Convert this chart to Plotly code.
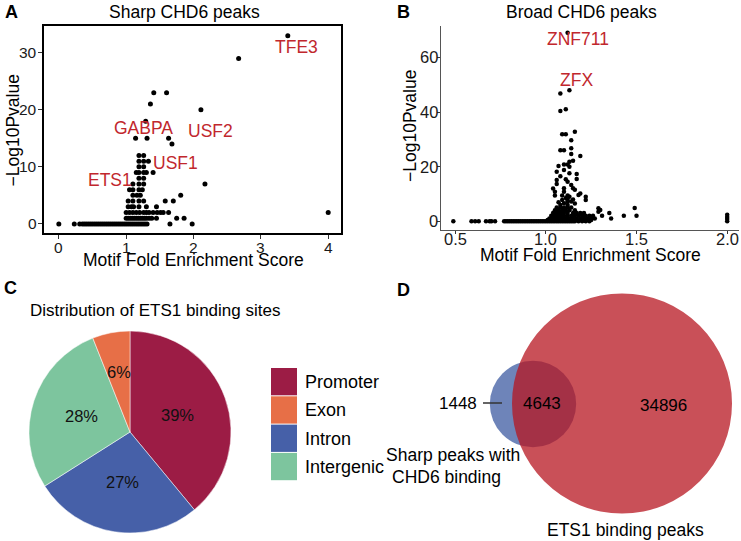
import math
import plotly.graph_objects as go

W, H = 741, 541
FONT = "Arial, 'Liberation Sans', sans-serif"
RED_TXT = "#C1272D"

# ---------------- Panel A data: sharp CHD6 peaks (fold enrichment, -log10 p) ----------------
sharp_points = [
    (0.00, 0), (0.23, 0), (0.31, 0), (0.35, 0), (0.38, 0), (0.41, 0), (0.44, 0), (0.47, 0), (0.50, 0),
    (0.53, 0), (0.56, 0), (0.59, 0), (0.62, 0), (0.65, 0), (0.68, 0), (0.71, 0), (0.74, 0), (0.77, 0),
    (0.80, 0), (0.83, 0), (0.86, 0), (0.89, 0), (0.92, 0), (0.95, 0), (0.98, 0), (1.01, 0), (1.04, 0),
    (1.07, 0), (1.10, 0), (1.13, 0), (1.16, 0), (1.19, 0), (1.22, 0), (1.25, 0), (1.28, 0), (1.31, 0),
    (1.65, 0), (1.98, 0),
    (1.00, 1), (1.03, 1), (1.06, 1), (1.09, 1), (1.12, 1), (1.15, 1), (1.18, 1), (1.21, 1), (1.24, 1),
    (1.27, 1), (1.30, 1), (1.34, 1), (1.38, 1), (1.45, 1), (1.75, 1), (1.86, 1),
    (1.00, 2), (1.05, 2), (1.10, 2), (1.15, 2), (1.20, 2), (1.26, 2), (1.30, 2), (1.34, 2), (1.40, 2),
    (1.46, 2), (1.51, 2), (1.55, 2), (1.63, 2), (4.00, 2),
    (1.03, 3), (1.08, 3), (1.11, 3), (1.19, 3), (1.30, 3), (1.45, 3),
    (1.03, 4), (1.10, 4), (1.19, 4), (1.26, 4), (1.58, 4), (1.70, 4),
    (1.10, 5), (1.16, 5), (1.21, 5), (1.81, 5),
    (1.05, 6), (1.10, 6), (1.19, 6), (1.24, 6),
    (1.10, 7), (1.19, 7), (1.26, 7), (2.17, 7),
    (1.19, 8), (1.26, 8),
    (1.15, 9), (1.19, 9), (1.26, 9), (1.30, 9), (1.40, 9),
    (1.19, 10), (1.26, 10),
    (1.19, 11), (1.26, 11), (1.33, 11),
    (1.19, 12), (1.26, 12),
    (1.68, 14),
    (1.14, 15), (1.31, 15), (1.63, 15),
    (1.29, 18), (2.11, 20), (1.36, 21), (1.41, 23), (1.60, 23), (2.67, 29), (3.40, 33),
]
sharp_motifs = ["TFE3", "USF2", "GABPA", "USF1", "ETS1"]
sharp_motif_fold = [3.40, 2.11, 1.29, 1.33, 1.10]
sharp_motif_logp = [33, 20, 18, 11, 7]
sharp_xticks = [0, 1, 2, 3, 4]
sharp_yticks = [0, 10, 20, 30]

# ---------------- Panel B data: broad CHD6 peaks ----------------
broad_points = [
    (0.49, 0), (0.59, 0), (0.61, 0), (0.63, 0), (0.67, 0), (0.69, 0), (0.70, 0), (0.72, 0), (0.77, 0),
    (0.78, 0), (0.79, 0), (0.80, 0), (0.81, 0), (0.82, 0), (0.83, 0), (0.84, 0), (0.85, 0), (0.86, 0),
    (0.87, 0), (0.88, 0), (0.89, 0), (0.90, 0), (0.91, 0), (0.92, 0), (0.93, 0), (0.94, 0), (0.95, 0),
    (0.96, 0), (0.97, 0), (0.98, 0), (0.99, 0), (1.00, 0), (1.01, 0), (1.02, 0), (1.03, 0), (1.04, 0),
    (1.05, 0), (1.06, 0), (1.07, 0), (1.08, 0), (1.09, 0), (1.10, 0), (1.11, 0), (1.12, 0), (1.13, 0),
    (1.14, 0), (1.15, 0), (1.16, 0), (1.18, 0), (1.20, 0), (1.22, 0), (1.24, 0),
    (1.01, 0.5), (1.03, 0.5), (1.05, 0.5), (1.07, 0.5), (1.09, 0.5), (1.11, 0.5), (1.13, 0.5),
    (1.15, 0.5), (1.17, 0.5), (1.19, 0.5), (1.21, 0.5), (1.23, 0.5), (1.25, 0.5),
    (1.02, 1), (1.03, 1), (1.04, 1), (1.05, 1), (1.06, 1), (1.07, 1), (1.08, 1), (1.09, 1), (1.10, 1),
    (1.11, 1), (1.12, 1), (1.13, 1), (1.14, 1), (1.15, 1), (1.17, 1), (1.19, 1), (1.21, 1), (1.23, 1),
    (1.25, 1), (1.27, 1), (1.36, 1),
    (1.03, 2), (1.04, 2), (1.05, 2), (1.06, 2), (1.07, 2), (1.08, 2), (1.09, 2), (1.10, 2), (1.12, 2),
    (1.14, 2), (1.16, 2), (1.18, 2), (1.20, 2), (1.22, 2), (1.24, 2), (1.26, 2), (1.31, 2), (1.43, 2),
    (1.50, 2),
    (1.04, 3), (1.05, 3), (1.06, 3), (1.07, 3), (1.08, 3), (1.10, 3), (1.12, 3), (1.15, 3), (1.17, 3),
    (1.19, 3), (1.21, 3), (1.29, 3.5), (1.35, 3),
    (1.05, 4), (1.06, 4), (1.07, 4), (1.09, 4), (1.11, 4), (1.13, 4), (1.16, 4), (1.30, 4.1),
    (1.06, 5), (1.08, 5), (1.10, 5), (1.12, 5), (1.14, 5), (1.29, 4.8), (1.49, 4.9),
    (1.08, 6), (1.12, 6), (1.10, 6.6), (1.16, 6.5), (1.12, 7.2), (1.14, 7.2), (1.07, 7.0),
    (1.09, 7.8), (1.12, 7.8), (1.22, 7.8), (1.15, 8.0), (1.11, 8.5), (1.13, 9.0), (1.22, 9.0),
    (1.05, 9.4), (1.09, 9.4), (1.12, 9.4), (1.18, 9.6), (1.19, 10.2), (1.05, 10.8), (1.10, 10.8),
    (1.16, 11.5), (1.04, 12.0), (1.10, 12.1), (1.15, 12.1), (1.14, 13.3), (1.06, 13.6), (1.12, 14.5),
    (1.06, 15.1), (1.11, 15.4), (1.17, 15.5), (1.08, 16.5), (1.17, 17.3), (1.13, 17.6), (1.06, 18.1),
    (1.10, 18.8), (1.13, 20.0), (1.07, 20.2), (1.10, 20.8), (1.12, 20.8), (1.13, 21.8), (1.15, 22.2),
    (1.19, 23.9), (1.14, 24.6), (1.08, 26.0), (1.10, 26.0), (1.14, 26.7), (1.14, 29.7), (1.09, 31.9),
    (1.11, 31.9), (1.16, 32.8), (1.08, 40.4), (1.11, 41.0), (1.08, 46.8), (1.13, 48.0), (1.12, 69.0),
    (2.00, 0.0), (2.00, 0.8), (2.00, 1.6), (2.00, 2.4),
]
broad_motifs = ["ZNF711", "ZFX"]
broad_motif_fold = [1.12, 1.13]
broad_motif_logp = [69.0, 48.0]
broad_xticks = [0.5, 1.0, 1.5, 2.0]
broad_yticks = [0, 20, 40, 60]

# ---------------- Panel C data: distribution of ETS1 binding sites ----------------
site_labels = ["Promoter", "Intron", "Intergenic", "Exon"]   # clockwise from 12 o'clock
site_pct = [39, 27, 28, 6]
legend_order = ["Promoter", "Exon", "Intron", "Intergenic"]
site_colors = {"Promoter": "#9C1C45", "Exon": "#E76F47", "Intron": "#4660A8", "Intergenic": "#7DC59E"}

# ---------------- Panel D data: Venn overlap ----------------
venn_sets = ["Sharp peaks with<br>CHD6 binding", "ETS1 binding peaks"]
only_chd6, both, only_ets1 = 1448, 4643, 34896


def px(x):
    return x / W


def py(y):
    return 1 - y / H


fig = go.Figure()

# Panel A scatter
fig.add_trace(go.Scatter(
    x=[p[0] for p in sharp_points], y=[p[1] for p in sharp_points], mode="markers",
    marker=dict(size=5, color="black"), xaxis="x", yaxis="y", hoverinfo="x+y"))
# Panel B scatter
fig.add_trace(go.Scatter(
    x=[p[0] for p in broad_points], y=[p[1] for p in broad_points], mode="markers",
    marker=dict(size=4.5, color="black"), xaxis="x2", yaxis="y2", hoverinfo="x+y"))

# Panel C pie
PIE_CX, PIE_CY, PIE_R = 130, 432, 101
fig.add_trace(go.Pie(
    labels=site_labels, values=site_pct, sort=False, direction="clockwise", rotation=0,
    marker=dict(colors=[site_colors[l] for l in site_labels], line=dict(color="white", width=0.5)),
    textinfo="none", showlegend=False,
    domain=dict(x=[px(PIE_CX - PIE_R), px(PIE_CX + PIE_R)], y=[py(PIE_CY + PIE_R), py(PIE_CY - PIE_R)])))

annotations = []
shapes = []

# ---- Panel letters
for letter, lx, ly in [("A", 3, 12), ("B", 395, 12), ("C", 2, 288), ("D", 395, 290)]:
    annotations.append(dict(text=letter, x=px(lx), y=py(ly), xref="paper", yref="paper",
                            xanchor="left", yanchor="middle", showarrow=False,
                            font=dict(size=18, family=FONT, color="black", weight="bold")))


def txt(t, x, y, size=17.5, color="black", xanchor="center", angle=0):
    annotations.append(dict(text=t, x=px(x), y=py(y), xref="paper", yref="paper", xanchor=xanchor,
                            yanchor="middle", showarrow=False, textangle=angle,
                            font=dict(size=size, family=FONT, color=color)))


txt("Sharp CHD6 peaks", 184.5, 12)
txt("Motif Fold Enrichment Score", 193, 260)
txt("\u2212Log10Pvalue", 12.5, 131, angle=-90)
txt("Broad CHD6 peaks", 581, 12)
txt("Motif Fold Enrichment Score", 590, 255)
txt("\u2212Log10Pvalue", 410, 126, angle=-90)
txt("Distribution of ETS1 binding sites", 28, 310, size=17, xanchor="left")


# ---- Tick labels placed on the axes' own scales
def xtick_labels(vals, xref, ypix, size, fmt):
    for v in vals:
        annotations.append(dict(text=fmt.format(v), x=v, xref=xref, y=py(ypix), yref="paper",
                                xanchor="center", yanchor="middle", showarrow=False,
                                font=dict(size=size, family=FONT, color="#1a1a1a")))


def ytick_labels(vals, yref, xpix, size):
    for v in vals:
        annotations.append(dict(text=str(v), y=v, yref=yref, x=px(xpix), xref="paper",
                                xanchor="right", yanchor="middle", showarrow=False,
                                font=dict(size=size, family=FONT, color="#1a1a1a")))


xtick_labels(sharp_xticks, "x", 247, 15.5, "{:d}")
ytick_labels(sharp_yticks, "y", 39, 15.5)
xtick_labels(broad_xticks, "x2", 239.5, 16.5, "{:.1f}")
ytick_labels(broad_yticks, "y2", 440, 16.5)

# ---- Motif labels (offsets in px from their point)
sharp_offsets = {"TFE3": (9, -11), "USF2": (10, -21), "GABPA": (-2, -7), "USF1": (27, -2), "ETS1": (-23, 4)}
for m, fx, fy in zip(sharp_motifs, sharp_motif_fold, sharp_motif_logp):
    dx, dy = sharp_offsets[m]
    annotations.append(dict(text=m, x=fx, y=fy, xref="x", yref="y", showarrow=False,
                            xshift=dx, yshift=dy, font=dict(size=17.5, family=FONT, color=RED_TXT)))
broad_offsets = {"ZNF711": (10, -6), "ZFX": (7, 10)}
for m, fx, fy in zip(broad_motifs, broad_motif_fold, broad_motif_logp):
    dx, dy = broad_offsets[m]
    annotations.append(dict(text=m, x=fx, y=fy, xref="x2", yref="y2", showarrow=False,
                            xshift=dx, yshift=dy, font=dict(size=17.5, family=FONT, color=RED_TXT)))

# ---- Pie percentage labels, computed from the data
total = sum(site_pct)
cum = 0
for lab, v in zip(site_labels, site_pct):
    mid = (cum + v / 2) / total
    cum += v
    th = 2 * math.pi * mid
    rr = 0.5 * PIE_R if v / total > 0.1 else 0.6 * PIE_R
    lx = PIE_CX + rr * math.sin(th)
    ly = PIE_CY - rr * math.cos(th)
    txt(f"{round(100 * v / total)}%", lx, ly, size=16.5, color="#111")

# ---- Custom legend
LEG_X0, LEG_X1, LEG_Y0, LEG_H = 271, 297, 368, 28.3
for i, lab in enumerate(legend_order):
    y0 = LEG_Y0 + i * LEG_H
    shapes.append(dict(type="rect", xref="paper", yref="paper",
                       x0=px(LEG_X0), x1=px(LEG_X1), y0=py(y0 + LEG_H - 1), y1=py(y0),
                       fillcolor=site_colors[lab], line=dict(width=0)))
    txt(lab, 303, y0 + LEG_H / 2, size=18, xanchor="left")

# ---- Venn diagram: circle areas proportional to set sizes
R_BIG = 110
n_chd6 = only_chd6 + both
n_ets1 = only_ets1 + both
r_small = R_BIG * math.sqrt(n_chd6 / n_ets1)
BIG_CX, BIG_CY = 622, 403.5
SM_CX, SM_CY = 533, 404
shapes.append(dict(type="circle", xref="paper", yref="paper",
                   x0=px(SM_CX - r_small), x1=px(SM_CX + r_small),
                   y0=py(SM_CY + r_small), y1=py(SM_CY - r_small),
                   fillcolor="#6E84B9", line=dict(width=0)))
shapes.append(dict(type="circle", xref="paper", yref="paper",
                   x0=px(BIG_CX - R_BIG), x1=px(BIG_CX + R_BIG),
                   y0=py(BIG_CY + R_BIG), y1=py(BIG_CY - R_BIG),
                   fillcolor="rgba(183,22,32,0.75)", line=dict(width=0)))
shapes.append(dict(type="line", xref="paper", yref="paper", x0=px(483), x1=px(502), y0=py(403), y1=py(403),
                   line=dict(color="#333", width=1.5)))
txt(f"{only_chd6}", 458, 403, size=17)
txt(f"{both}", 541.7, 403, size=17)
txt(f"{only_ets1}", 663, 405, size=17)
chd6_lines = venn_sets[0].split("<br>")
txt(chd6_lines[0], 453, 455)
txt(chd6_lines[1], 446, 477)
txt(venn_sets[1], 625, 530)

axis_common = dict(showgrid=False, zeroline=False, ticks="outside", tickcolor="#333", tickwidth=1,
                   showticklabels=False)

fig.update_layout(
    width=W, height=H, margin=dict(l=0, r=0, t=0, b=0),
    paper_bgcolor="white", plot_bgcolor="white", showlegend=False,
    font=dict(family=FONT, color="black"),
    xaxis=dict(domain=[px(44), px(341)], range=[-0.22, 4.19], tickvals=sharp_xticks,
               showline=True, linecolor="black", linewidth=2, mirror=True, ticklen=4,
               anchor="y", **axis_common),
    yaxis=dict(domain=[py(233), py(26)], range=[-1.6, 34.7], tickvals=sharp_yticks,
               showline=True, linecolor="black", linewidth=2, mirror=True, ticklen=4,
               anchor="x", **axis_common),
    xaxis2=dict(domain=[px(441), px(739)], range=[0.422, 2.065], tickvals=broad_xticks,
                showline=True, linecolor="#555", linewidth=1, ticklen=3,
                anchor="y2", **axis_common),
    yaxis2=dict(domain=[py(230), py(26)], range=[-3.2, 71.5], tickvals=broad_yticks,
                showline=True, linecolor="#555", linewidth=1, ticklen=3,
                anchor="x2", **axis_common),
    annotations=annotations, shapes=shapes,
)

fig.write_html("out.html", config={"displayModeBar": False},
               post_script="document.body.style.margin='0px';")
